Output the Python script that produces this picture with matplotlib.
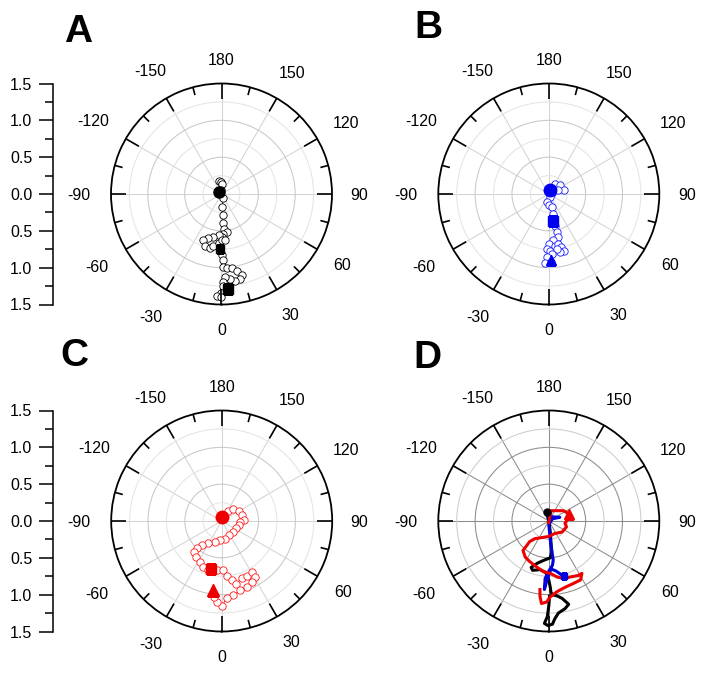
import numpy as np
import matplotlib
matplotlib.use('Agg')
import matplotlib.pyplot as plt
from matplotlib.ticker import NullFormatter

plt.rcParams['font.family'] = ['Liberation Sans', 'DejaVu Sans']

# ---------------- data (east / south displacement, radial units) ----------------
# Panel A (black)
A_east = [-0.03, -0.03, -0.01, 0.0, -0.01, 0.025, 0.01, 0.016, 0.025, 0.034, 0.07, 0.025, 0.0,
          -0.04, -0.11, -0.18, -0.25, -0.225, -0.16, -0.11, -0.04, 0.0, 0.05, -0.02, 0.0, 0.025,
          0.016, 0.07, 0.14, 0.21, 0.275, 0.25, 0.18, 0.12, 0.05, 0.016, 0.025, 0.09, -0.01,
          -0.066, -0.01]
A_south = [-0.03, -0.18, -0.16, -0.14, -0.05, 0.05, 0.17, 0.29, 0.39, 0.47, 0.51, 0.54, 0.58,
           0.56, 0.58, 0.60, 0.63, 0.70, 0.73, 0.70, 0.66, 0.63, 0.63, 0.74, 0.83, 0.89,
           0.99, 1.01, 1.00, 1.04, 1.10, 1.15, 1.18, 1.15, 1.13, 1.20, 1.25, 1.29, 1.35,
           1.38, 1.40]
A_mark_east = [-0.03, -0.02, 0.09]      # circle, square, square
A_mark_south = [-0.03, 0.74, 1.29]

# Panel B (blue)
B_east = [0.016, 0.085, 0.15, 0.2, 0.13, 0.05, 0.016, -0.03, 0.0, 0.04, 0.06, 0.053, 0.08,
          0.107, 0.13, 0.06, 0.0, -0.03, 0.016, 0.085, 0.13, 0.17, 0.2, 0.15, 0.107, 0.04,
          -0.03, -0.05, 0.026]
B_south = [-0.06, -0.13, -0.12, -0.06, -0.05, -0.02, 0.04, 0.11, 0.155, 0.18, 0.27, 0.37, 0.43,
           0.52, 0.59, 0.63, 0.68, 0.75, 0.77, 0.70, 0.68, 0.72, 0.77, 0.79, 0.75, 0.81,
           0.86, 0.94, 0.92]
B_mark_east = [0.016, 0.053, 0.03]      # circle, square, triangle
B_mark_south = [-0.06, 0.37, 0.90]

# Panel C (red)
C_east = [0.01, 0.09, 0.16, 0.23, 0.27, 0.30, 0.25, 0.23, 0.20, 0.16, 0.105, 0.045, -0.02,
          -0.09, -0.18, -0.27, -0.34, -0.38, -0.35, -0.30, -0.25, -0.18, -0.07, 0.02, 0.07,
          0.14, 0.20, 0.27, 0.34, 0.41, 0.45, 0.41, 0.34, 0.25, 0.16, 0.07, 0.0, -0.07, -0.11]
C_south = [-0.06, -0.13, -0.16, -0.13, -0.08, -0.01, 0.01, 0.055, 0.10, 0.145, 0.19, 0.24, 0.26,
           0.28, 0.30, 0.33, 0.37, 0.42, 0.49, 0.55, 0.62, 0.67, 0.67, 0.67, 0.74,
           0.80, 0.85, 0.78, 0.74, 0.69, 0.76, 0.83, 0.90, 0.94, 1.01, 1.05, 1.15, 1.10, 1.03]
C_mark_east = [0.01, -0.15, -0.12]      # circle, square, triangle
C_mark_south = [-0.06, 0.645, 0.93]

# Panel D (three tracks)
Dk_east = [-0.03, 0.0, 0.02, 0.03, 0.04, 0.02, -0.06, -0.15, -0.24, -0.22, -0.12, -0.04, 0.0,
           0.02, 0.03, 0.05, 0.12, 0.18, 0.27, 0.22, 0.13, 0.08, 0.05, -0.01, -0.06, -0.02,
           0.0, 0.01]
Dk_south = [-0.12, 0.0, 0.15, 0.30, 0.42, 0.50, 0.53, 0.57, 0.63, 0.67, 0.66, 0.70, 0.80,
            0.90, 0.97, 1.00, 1.02, 1.05, 1.13, 1.19, 1.25, 1.33, 1.40, 1.42, 1.39, 1.30,
            1.15, 1.02]
Db_east = [0.0, 0.15, 0.05, 0.0, 0.01, 0.02, 0.04, 0.06, 0.05, 0.0, -0.05, -0.06, -0.03, 0.03,
           0.10, 0.20]
Db_south = [-0.06, -0.05, -0.03, 0.05, 0.15, 0.26, 0.40, 0.53, 0.60, 0.68, 0.78, 0.93, 0.82,
            0.65, 0.68, 0.75]
Dr_east = [0.0, 0.03, 0.20, 0.27, 0.24, 0.22, 0.24, 0.18, 0.08, 0.0, -0.19, -0.26, -0.35,
           -0.32, -0.26, -0.17, -0.07, 0.02, 0.11, 0.20, 0.29, 0.40, 0.45, 0.43, 0.33, 0.22,
           0.11, 0.02, -0.03, -0.10, -0.12, -0.12]
Dr_south = [0.02, -0.14, -0.14, -0.10, 0.0, 0.03, 0.08, 0.15, 0.17, 0.21, 0.24, 0.28, 0.40,
            0.49, 0.55, 0.62, 0.69, 0.71, 0.76, 0.78, 0.76, 0.74, 0.71, 0.80, 0.85, 0.90,
            0.96, 1.03, 1.10, 1.12, 1.02, 0.93]

theta_ticks_deg = [0, 30, 60, 90, 120, 150, 180, 210, 240, 270, 300, 330]
theta_minor_deg = [15, 45, 75, 105, 135, 165, 195, 225, 255, 285, 315, 345]
theta_labels = ['0', '30', '60', '90', '120', '150', '180', '-150', '-120', '-90', '-60', '-30']
r_major = [0.5, 1.0]
r_minor = [0.25, 0.75, 1.25]
scale_values = [1.5, 1.0, 0.5, 0.0, -0.5, -1.0, -1.5]
scale_labels = ['1.5', '1.0', '0.5', '0.0', '0.5', '1.0', '1.5']
scale_minor = [1.25, 0.75, 0.25, -0.25, -0.75, -1.25]
RMAX = 1.5

# ---------------- figure ----------------
W, H = 706, 676
fig = plt.figure(figsize=(W / 100, H / 100), dpi=100)
R_PX = 110.5
FS = 11.5


def to_polar(east, south):
    e = np.asarray(east, float)
    s = np.asarray(south, float)
    return np.arctan2(e, s), np.hypot(e, s)


def polar_axes(cx, cy, dark=False):
    ax = fig.add_axes([(cx - R_PX) / W, (H - (cy + R_PX)) / H, 2 * R_PX / W, 2 * R_PX / H],
                      projection='polar')
    ax.set_theta_zero_location('S')
    ax.set_theta_direction(1)
    ax.set_ylim(0, RMAX)
    ax.set_xticks(np.deg2rad(theta_ticks_deg))
    ax.set_xticks(np.deg2rad(theta_minor_deg), minor=True)
    ax.xaxis.set_major_formatter(NullFormatter())
    ax.xaxis.set_minor_formatter(NullFormatter())
    ax.set_yticks(r_major)
    ax.set_yticks(r_minor, minor=True)
    ax.yaxis.set_major_formatter(NullFormatter())
    ax.yaxis.set_minor_formatter(NullFormatter())
    ax.tick_params(axis='y', which='both', length=0)
    if dark:
        spoke_c, maj_c, min_c = '#8c8c8c', '#8c8c8c', '#cdcdcd'
    else:
        spoke_c, maj_c, min_c = '#d4d4d4', '#c8c8c8', '#e4e4e4'
    ax.xaxis.grid(True, which='major', color=spoke_c, lw=0.75)
    ax.xaxis.grid(False, which='minor')
    ax.yaxis.grid(True, which='major', color=maj_c, lw=0.75)
    ax.yaxis.grid(True, which='minor', color=min_c, lw=0.75)
    ax.spines['polar'].set_linewidth(1.3)
    ax.spines['polar'].set_color('black')
    # inward tick marks on the rim, drawn in data space from the tick angle arrays
    for degs, ln in [(theta_ticks_deg, 0.205), (theta_minor_deg, 0.11)]:
        for a in degs:
            ar = np.deg2rad(a)
            ax.plot([ar, ar], [RMAX - ln, RMAX], color='black', lw=1.2,
                    solid_capstyle='butt', zorder=6, clip_on=False)
    # theta labels
    for a, s in zip(theta_ticks_deg, theta_labels):
        nd = sum(ch.isdigit() for ch in s)
        w = 16 * (0.556 * nd + (0.584 if s.startswith('-') else 0))
        h = 12
        ar = np.deg2rad(a)
        off = 18.5 + 0.5 * (w * abs(np.sin(ar)) + h * abs(np.cos(ar)))
        ax.annotate(s, xy=(ar, RMAX), xytext=(off * np.sin(ar), -off * np.cos(ar)),
                    textcoords='offset pixels', ha='center', va='center_baseline',
                    fontsize=FS, annotation_clip=False)
    return ax


def scale_axis(cy):
    x0 = 53.3
    ax = fig.add_axes([x0 / W, (H - (cy + R_PX)) / H, 0.002, 2 * R_PX / H])
    ax.patch.set_visible(False)
    ax.set_ylim(-1.5, 1.5)
    for s in ['top', 'right', 'bottom']:
        ax.spines[s].set_visible(False)
    ax.spines['left'].set_linewidth(1.1)
    ax.set_xticks([])
    ax.set_yticks(scale_values)
    ax.set_yticklabels(scale_labels, fontsize=FS)
    ax.set_yticks(scale_minor, minor=True)
    ax.tick_params(axis='y', which='major', length=10, width=1.1, pad=5)
    ax.tick_params(axis='y', which='minor', length=5.5, width=1.1)
    return ax


def track(ax, east, south, color):
    t, r = to_polar(east, south)
    ax.plot(t, r, '-', color=color, lw=0.6, marker='o', ms=5.3, mfc='white', mec=color, mew=0.6,
            zorder=3)


def marks(ax, east, south, color, kinds, sizes):
    t, r = to_polar(east, south)
    for ti, ri, k, s in zip(t, r, kinds, sizes):
        ax.plot([ti], [ri], marker=k, ms=s, color=color, mec=color, ls='none', zorder=4)


# Panel A
axA = polar_axes(221.5, 194)
track(axA, A_east, A_south, 'black')
marks(axA, A_mark_east, A_mark_south, 'black', ['o', 's', 's'], [8, 5.5, 7])

# Panel B
axB = polar_axes(548.8, 194)
track(axB, B_east, B_south, '#1a1aff')
marks(axB, B_mark_east, B_mark_south, '#0000ee', ['o', 's', '^'], [9, 7, 7])

# Panel C
axC = polar_axes(221.7, 521)
track(axC, C_east, C_south, '#ff1a1a')
marks(axC, C_mark_east, C_mark_south, '#ee0000', ['o', 's', '^'], [9, 7, 9])

# Panel D
axD = polar_axes(548.8, 521, dark=True)
for e, s, c in [(Dk_east, Dk_south, 'black'), (Db_east, Db_south, '#0000dd'),
                (Dr_east, Dr_south, '#ee0000')]:
    t, r = to_polar(e, s)
    axD.plot(t, r, '-', color=c, lw=2.2, zorder=3, solid_joinstyle='round')
t, r = to_polar([Dk_east[0]], [Dk_south[0]])
axD.plot(t, r, 'o', color='black', ms=5, zorder=5)
t, r = to_polar([Db_east[-1]], [Db_south[-1]])
axD.plot(t, r, 's', color='#0000dd', ms=5, zorder=5)
t, r = to_polar([Dr_east[3]], [Dr_south[3]])
axD.plot(t, r, '^', color='#ee0000', ms=7, zorder=5)

scale_axis(194)
scale_axis(521)

# panel letters
for txt, x, yb in [('A', 64, 41.5), ('B', 414, 38.5), ('C', 60, 366), ('D', 413, 367.5)]:
    fig.text(x / W, (H - yb) / H, txt, fontsize=28, fontweight='bold', ha='left', va='baseline')

fig.savefig('out.png', dpi=100)
